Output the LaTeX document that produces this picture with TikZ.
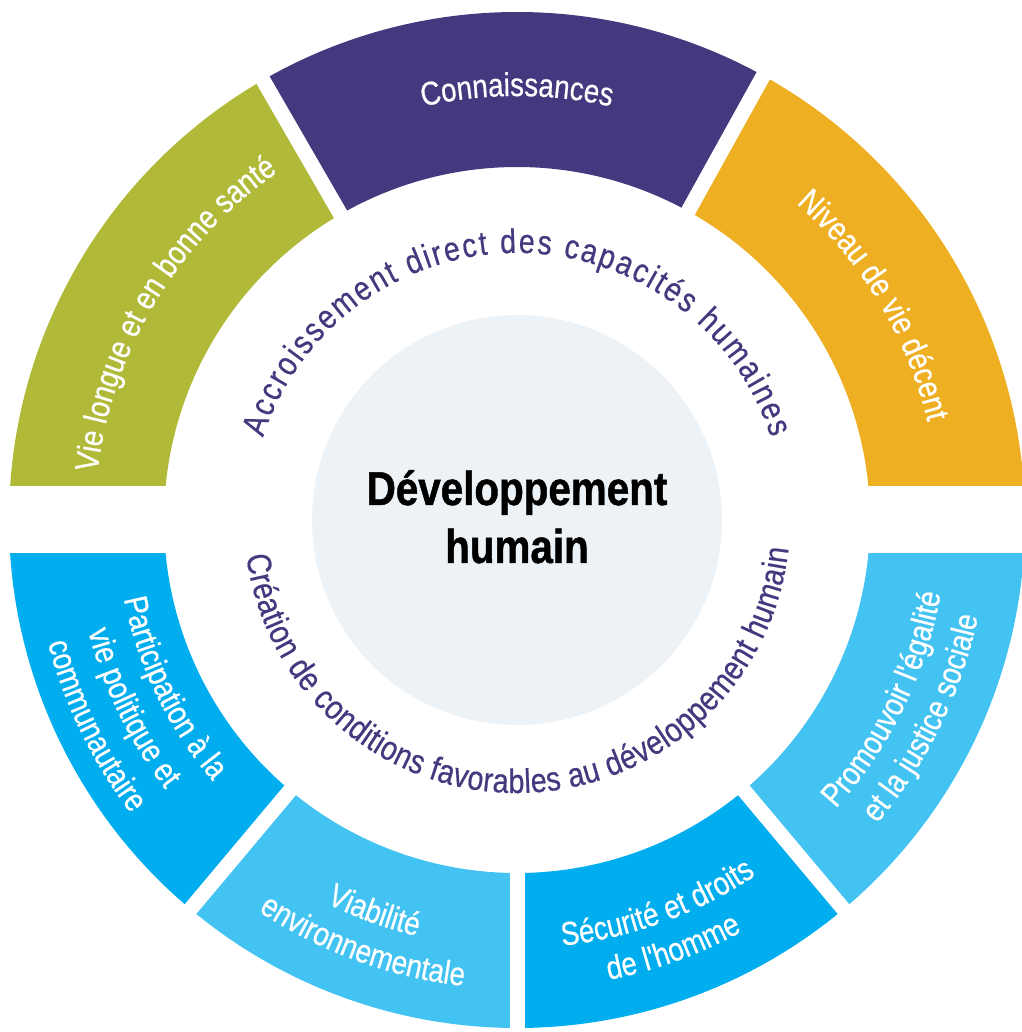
\documentclass[tikz,border=0pt]{standalone}
\usepackage{fontspec}
\setmainfont{Liberation Sans}[FakeStretch=0.84]
\newfontfamily\labelfamily{Liberation Sans}[FakeStretch=0.84,FakeBold=0.5]
\newfontfamily\titlefamily{Liberation Sans}[FakeStretch=0.85,BoldFeatures={FakeBold=1}]
\usetikzlibrary{decorations.text}

\definecolor{ringgreen}{RGB}{176,186,56}
\definecolor{ringpurple}{RGB}{68,57,126}
\definecolor{ringorange}{RGB}{239,175,34}
\definecolor{ringblue}{RGB}{0,174,239}
\definecolor{ringsky}{RGB}{67,195,242}
\definecolor{corefill}{RGB}{237,242,247}

\newcommand{\segfont}{\labelfamily\fontsize{33}{41}\selectfont}
\newcommand{\arcfont}{\labelfamily\fontsize{34}{41}\selectfont}

% text on an arc, clockwise (letters outward) or counterclockwise (letters inward)
\newcommand{\toplabel}[3]{\path[decorate,decoration={text along path,text align=center,text color=white,text={|\segfont|#3}}]
	(#1+40:#2) arc[start angle=#1+40,end angle=#1-40,radius=#2];}
\newcommand{\botlabel}[3]{\path[decorate,decoration={text along path,text align=center,text color=white,text={|\segfont|#3}}]
	(#1-40:#2) arc[start angle=#1-40,end angle=#1+40,radius=#2];}

\tikzset{
	gap/.style={white,line width=15pt},
	core/.style={circle,fill=corefill,minimum size=410pt,inner sep=0pt},
	title/.style={anchor=base,inner sep=0pt,font=\titlefamily\fontsize{47.5}{58}\selectfont\bfseries}
}

\begin{document}
\begin{tikzpicture}[x=1pt,y=1pt]
	\useasboundingbox (-517,-512) rectangle (504,520);

	\foreach \c/\a/\b in {ringorange/0/61,ringpurple/61/120,ringgreen/120/180,ringblue/180/230,ringsky/230/270,ringblue/270/310,ringsky/310/360}
		\fill[\c] (\a:508) arc[start angle=\a,end angle=\b,radius=508] -- (\b:353) arc[start angle=\b,end angle=\a,radius=353] -- cycle;
	\foreach \a in {61,120,230,270,310}
		\draw[gap] (\a:340) -- (\a:520);
	\fill[white] (-520,-33.5) rectangle (-340,33.5);
	\fill[white] (340,-33.5) rectangle (520,33.5);

	\node[core] (core) at (0,0) {};
	\node[title] (dev) at (0,15) {Développement};
	\node[title] (hum) at (0,-43) {humain};

	\path[decorate,decoration={text along path,text align={fit to path},text color=ringpurple,text={|\arcfont|Accroissement direct des capacités humaines}}]
		(162:267) arc[start angle=162,end angle=18,radius=267];
	\path[decorate,decoration={text along path,text align={fit to path},text color=ringpurple,text={|\arcfont|Création de conditions favorables au développement humain}}]
		(187.5:273) arc[start angle=187.5,end angle=354,radius=273];

	\toplabel{90}{424}{Connaissances}
	\toplabel{149}{422}{Vie longue et en bonne santé}
	\toplabel{31}{422}{Niveau de vie décent}

	\botlabel{206}{401}{Participation à la}
	\botlabel{206}{443}{vie politique et}
	\botlabel{206}{485}{communautaire}
	\botlabel{250}{428}{Viabilité}
	\botlabel{250}{469}{environnementale}
	\botlabel{290}{428}{Sécurité et droits}
	\botlabel{290}{469}{de l'homme}
	\botlabel{334}{430}{Promouvoir l'égalité}
	\botlabel{334}{471}{et la justice sociale}
\end{tikzpicture}
\end{document}
